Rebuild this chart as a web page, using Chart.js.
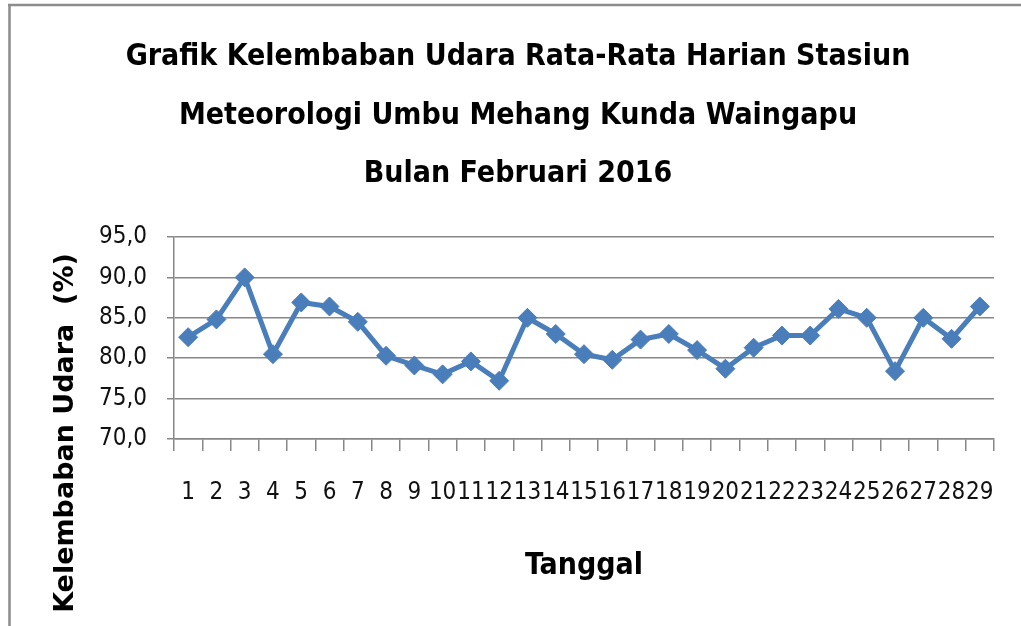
<!DOCTYPE html>
<html>
<head>
<meta charset="utf-8">
<title>Grafik Kelembaban Udara</title>
<script src="https://cdn.jsdelivr.net/npm/chart.js@4/dist/chart.umd.min.js"></script>
<style>
  html, body { margin: 0; padding: 0; background: #fff; }
  #wrap { width: 1021px; height: 626px; }
</style>
</head>
<body>
<div id="wrap"><canvas id="chart" width="1021" height="626"></canvas></div>
<script>
// Data
const days = ['1', '2', '3', '4', '5', '6', '7', '8', '9', '10', '11', '12', '13', '14', '15',
  '16', '17', '18', '19', '20', '21', '22', '23', '24', '25', '26', '27', '28', '29'];
const humidity = [82.6, 84.8, 90.0, 80.5, 86.9, 86.4, 84.5, 80.3, 79.1, 78.0, 79.6, 77.2, 85.0, 83.0, 80.5,
  79.8, 82.3, 83.0, 81.0, 78.7, 81.3, 82.8, 82.8, 86.1, 85.0, 78.4, 85.0, 82.4, 86.4];
const yMin = 70;
const yMax = 95;
const yStep = 5;

const titleLines = [
  'Grafik Kelembaban Udara Rata-Rata Harian Stasiun',
  'Meteorologi Umbu Mehang Kunda Waingapu',
  'Bulan Februari 2016'
];
const xTitle = 'Tanggal';
const yTitle = 'Kelembaban Udara  (%)';

const narrow = '"DejaVu Sans Condensed", "DejaVu Sans", sans-serif';
const lineColor = '#4a7ebb';
const gridColor = '#878787';

// White background, grey frame on top and left, rotated y title
const decorPlugin = {
  id: 'decor',
  beforeDraw(chart) {
    const ctx = chart.ctx;
    ctx.save();
    ctx.fillStyle = '#fff';
    ctx.fillRect(0, 0, chart.width, chart.height);
    ctx.strokeStyle = '#8c8c8c';
    ctx.lineWidth = 2.5;
    ctx.beginPath();
    ctx.moveTo(8, 5);
    ctx.lineTo(chart.width, 5);
    ctx.moveTo(9.5, 4);
    ctx.lineTo(9.5, chart.height);
    ctx.stroke();
    ctx.restore();
  },
  afterDraw(chart) {
    const ctx = chart.ctx;
    ctx.save();
    ctx.translate(66, 433);
    ctx.rotate(-Math.PI / 2);
    ctx.font = 'bold 27px "DejaVu Sans", sans-serif';
    ctx.fillStyle = '#000';
    ctx.textAlign = 'center';
    ctx.textBaseline = 'middle';
    ctx.fillText(yTitle, 0, 0);
    ctx.restore();
  }
};

const ctx = document.getElementById('chart').getContext('2d');
new Chart(ctx, {
  type: 'line',
  data: {
    labels: days,
    datasets: [{
      data: humidity,
      borderColor: lineColor,
      backgroundColor: lineColor,
      borderWidth: 5,
      pointStyle: 'rectRot',
      pointRadius: 9.5,
      pointBorderWidth: 1,
      pointBackgroundColor: lineColor,
      tension: 0
    }]
  },
  options: {
    responsive: false,
    animation: false,
    layout: { padding: { left: 39, right: 24, top: 0, bottom: 0 } },
    plugins: {
      legend: { display: false },
      tooltip: { enabled: false },
      title: {
        display: true,
        text: titleLines,
        color: '#000',
        font: { family: narrow, size: 30, weight: 'bold', lineHeight: 58.5 / 30 },
        padding: { top: 28, bottom: 33.5 }
      }
    },
    scales: {
      x: {
        offset: true,
        grid: {
          offset: true,
          drawOnChartArea: false,
          drawTicks: true,
          tickLength: 12,
          color: gridColor,
          lineWidth: 1.5
        },
        border: { color: gridColor, width: 1.5 },
        ticks: {
          autoSkip: false,
          maxRotation: 0,
          padding: 27,
          color: '#111',
          font: { family: narrow, size: 24 }
        },
        title: {
          display: true,
          text: xTitle,
          color: '#000',
          font: { family: narrow, size: 30, weight: 'bold' },
          padding: { top: 0, bottom: 42 }
        },
        afterFit(scale) { scale.height = 187; }
      },
      y: {
        min: yMin,
        max: yMax,
        grid: {
          color: gridColor,
          lineWidth: 1.5,
          tickLength: 7
        },
        border: { color: gridColor, width: 1.5 },
        ticks: {
          stepSize: yStep,
          padding: 20,
          color: '#111',
          font: { family: narrow, size: 24 },
          callback: (v) => v.toFixed(1).replace('.', ',')
        },
        afterFit(scale) { scale.width = 174 - 39; }
      }
    }
  },
  plugins: [decorPlugin]
});
</script>
</body>
</html>
